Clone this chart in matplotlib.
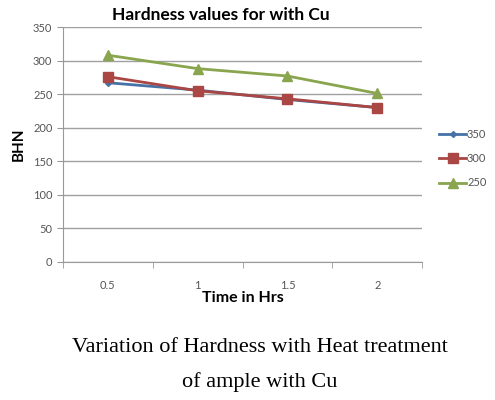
import numpy as np
import matplotlib.pyplot as plt

times = ["0.5", "1", "1.5", "2"]
series_names = ["350", "300", "250"]
bhn_350 = [267, 256, 242, 230]
bhn_300 = [276, 255, 243, 230]
bhn_250 = [308, 288, 277, 251]
y_ticks = [0, 50, 100, 150, 200, 250, 300, 350]

plt.rcParams['font.family'] = ['Lato', 'DejaVu Sans']

fig = plt.figure(figsize=(4.95, 4.0), dpi=100)
ax = fig.add_axes([0.127, 0.345, 0.726, 0.5875])

x = np.arange(len(times))
styles = [
    (bhn_350, "#4572a7", "D", 3),
    (bhn_300, "#aa4643", "s", 7),
    (bhn_250, "#89a54e", "^", 7),
]
for (vals, col, mk, ms), name in zip(styles, series_names):
    ax.plot(x, vals, color=col, marker=mk, markersize=ms, linewidth=2, label=name)

ax.set_xlim(-0.5, len(times) - 0.5)
ax.set_ylim(0, 350)
ax.set_yticks(y_ticks)
ax.set_xticks(x)
ax.set_xticklabels(times)
ax.set_xticks(np.arange(-0.5, len(times)), minor=True)
ax.tick_params(axis='x', which='major', length=0, labelsize=8, colors='#555555', pad=13)
ax.tick_params(axis='x', which='minor', length=4, color='#999999', direction='out')
ax.tick_params(axis='y', length=4, color='#999999', labelsize=8, labelcolor='#555555')
ax.grid(axis='y', color='#a0a0a0', linewidth=1)
ax.set_axisbelow(True)
for s in ['top', 'right']:
    ax.spines[s].set_visible(False)
ax.spines['left'].set_color('#999999')
ax.spines['bottom'].set_color('#999999')

ax.set_title("Hardness values for with Cu", fontsize=12.5, fontweight='bold',
             x=0.44, pad=5)
ax.set_ylabel("BHN", fontsize=11, fontweight='bold', labelpad=5)
ax.set_xlabel("Time in Hrs", fontsize=11.5, fontweight='bold', labelpad=0)

ax.legend(loc='center left', bbox_to_anchor=(1.035, 0.44), frameon=False, fontsize=8,
          handlelength=2.4, handletextpad=0.1, labelspacing=1.2, labelcolor='#555555',
          borderaxespad=0)

fig.text(0.525, 0.132, "Variation of Hardness with Heat treatment", ha='center', va='center',
         family='Liberation Serif', fontsize=16)
fig.text(0.525, 0.045, "of ample with Cu", ha='center', va='center',
         family='Liberation Serif', fontsize=16)

fig.savefig("out.png", dpi=100)
